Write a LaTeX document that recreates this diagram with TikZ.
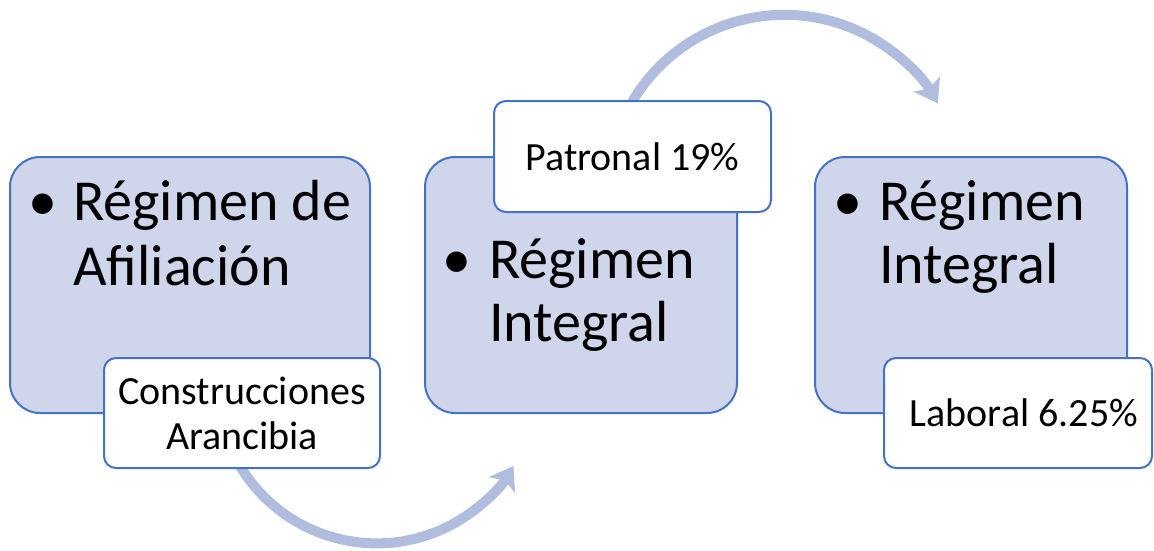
\documentclass[tikz,border=0pt]{standalone}
\usepackage{fontspec}
\setmainfont{Carlito}
\usetikzlibrary{arrows.meta}
\definecolor{boxfill}{RGB}{207,213,234}
\definecolor{boxline}{RGB}{68,114,196}
\definecolor{arrowcol}{RGB}{176,189,223}
\tikzset{
  bigbox/.style={draw=boxline, line width=2pt, fill=boxfill, rounded corners=30pt, inner sep=0pt},
  subbox/.style={draw=boxline, line width=2pt, fill=white, rounded corners=12pt, inner sep=0pt, align=center,
     font=\fontsize{40}{45}\selectfont},
  subtxt/.style={inner sep=0pt, font=\fontsize{40}{45}\selectfont},
  bigtxt/.style={anchor=base west, inner sep=0pt, font=\fontsize{58}{65}\selectfont},
  flow/.style={draw=arrowcol, line width=10pt, -{Stealth[length=22pt,width=30pt,inset=5pt]}},
}
\begin{document}
\begin{tikzpicture}[x=1pt,y=-1pt]
\useasboundingbox (0,0) rectangle (1154,551);
% arrows (behind boxes)
\coordinate (a1s) at (240,466);
\coordinate (a2s) at (632,102);
\draw[flow] (a1s) arc[start angle=149, end angle=31, radius=159.5];
\draw[flow] (a2s) arc[start angle=210.5, end angle=330, radius=177];
% main boxes
\node[bigbox, minimum width=360pt, minimum height=256pt] (b1) at (190,285) {};
\node[bigbox, minimum width=312pt, minimum height=256pt] (b2) at (581,285) {};
\node[bigbox, minimum width=312pt, minimum height=256pt] (b3) at (971,285) {};
% box texts
\node[bigtxt] (b1d) at (28,220) {•};
\node[bigtxt] (b1a) at (73,220) {Régimen de};
\node[bigtxt] (b1b) at (73,285) {Afiliación};
\node[bigtxt] (b2d) at (442,278) {•};
\node[bigtxt] (b2a) at (489,278) {Régimen};
\node[bigtxt] (b2b) at (489,341) {Integral};
\node[bigtxt] (b3d) at (833,220) {•};
\node[bigtxt] (b3a) at (879,220) {Régimen};
\node[bigtxt] (b3b) at (879,283) {Integral};
% sub boxes
\node[subbox, minimum width=276pt, minimum height=110pt] (s1) at (242,413) {Construcciones\\Arancibia};
\node[subbox, minimum width=277pt, minimum height=111pt] (s2) at (632.5,156.5) {Patronal 19\%};
\node[subbox, minimum width=268pt, minimum height=110pt] (s3) at (1018,413) {};
\node[subtxt] (s3t) at (1024,413) {Laboral 6.25\%};
\end{tikzpicture}
\end{document}
